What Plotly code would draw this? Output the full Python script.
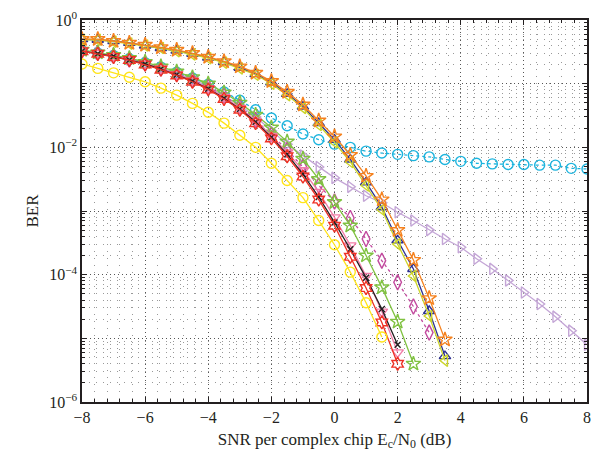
import plotly.graph_objects as go

# SNR grid (dB), 0.5 dB steps
snr_all = [-8 + 0.5 * i for i in range(33)]

# log10(BER) values
yellow_circ = [-0.69,-0.76,-0.83,-0.90,-0.97,-1.07,-1.18,-1.31,-1.45,-1.62,-1.81,-2.00,-2.25,-2.52,-2.79,-3.15,-3.53,-3.96,-4.44,-4.98]
red_hex = [-0.49,-0.53,-0.58,-0.63,-0.70,-0.78,-0.87,-0.97,-1.09,-1.24,-1.41,-1.62,-1.86,-2.14,-2.46,-2.82,-3.23,-3.72,-4.21,-4.75,-5.40]
pink_tri = [-0.48,-0.52,-0.57,-0.62,-0.69,-0.76,-0.85,-0.95,-1.07,-1.21,-1.38,-1.58,-1.82,-2.08,-2.36,-2.70,-3.10,-3.54,-4.02,-4.58,-5.22]
black_x = [-0.49,-0.53,-0.57,-0.63,-0.69,-0.77,-0.86,-0.96,-1.08,-1.23,-1.40,-1.60,-1.84,-2.11,-2.42,-2.78,-3.18,-3.60,-4.05,-4.54,-5.10]
green_star = [-0.47,-0.51,-0.55,-0.60,-0.66,-0.73,-0.81,-0.90,-1.00,-1.14,-1.30,-1.49,-1.69,-1.91,-2.18,-2.50,-2.86,-3.23,-3.70,-4.20,-4.74,-5.40]
magenta_dia = [-0.48,-0.52,-0.56,-0.62,-0.68,-0.76,-0.84,-0.94,-1.05,-1.19,-1.36,-1.57,-1.80,-2.04,-2.31,-2.60,-2.85,-3.11,-3.44,-3.78,-4.12,-4.50,-4.91]
cyan_circ = [-0.48,-0.52,-0.56,-0.61,-0.67,-0.74,-0.82,-0.91,-1.01,-1.13,-1.26,-1.41,-1.54,-1.66,-1.79,-1.88,-1.95,-2.00,-2.06,-2.09,-2.11,-2.13,-2.15,-2.19,-2.22,-2.25,-2.26,-2.27,-2.27,-2.28,-2.28,-2.33,-2.34]
lavender_tri = [-0.48,-0.52,-0.57,-0.62,-0.68,-0.75,-0.84,-0.93,-1.05,-1.19,-1.34,-1.52,-1.74,-1.95,-2.13,-2.31,-2.48,-2.62,-2.76,-2.87,-3.02,-3.15,-3.30,-3.44,-3.57,-3.75,-3.91,-4.09,-4.28,-4.46,-4.66,-4.88,-5.10]
orange_star = [-0.30,-0.30,-0.33,-0.36,-0.39,-0.43,-0.47,-0.52,-0.58,-0.65,-0.73,-0.83,-0.96,-1.13,-1.33,-1.58,-1.83,-2.12,-2.45,-2.82,-3.30,-3.77,-4.37,-5.02]
navy_tri = [-0.30,-0.31,-0.33,-0.36,-0.40,-0.44,-0.48,-0.53,-0.59,-0.66,-0.75,-0.85,-0.98,-1.16,-1.36,-1.62,-1.88,-2.19,-2.55,-2.94,-3.46,-3.91,-4.57,-5.28]
yg_tri = [-0.31,-0.31,-0.34,-0.37,-0.40,-0.44,-0.49,-0.54,-0.60,-0.67,-0.76,-0.86,-1.00,-1.18,-1.38,-1.65,-1.92,-2.23,-2.60,-2.98,-3.52,-4.02,-4.65,-5.35]

x_ticks = [-8, -6, -4, -2, 0, 2, 4, 6, 8]
y_tick_exps = [0, -1, -2, -3, -4, -5, -6]
y_tick_labels = ["10<sup>0</sup>", "", "10<sup>\u22122</sup>", "", "10<sup>\u22124</sup>", "", "10<sup>\u22126</sup>"]

series = [
    (lavender_tri, "#C4A6D6", "triangle-right-open", "solid", 10),
    (cyan_circ, "#1CB4DE", "circle-open", "dot", 10),
    (magenta_dia, "#C24A9E", "diamond-tall-open", "dot", 11),
    (green_star, "#80C241", "star-open", "solid", 11),
    (pink_tri, "#F27DA8", "triangle-down-open", "solid", 10),
    (black_x, "#231F20", "x-thin-open", "solid", 6),
    (red_hex, "#EE3124", "hexagram-open", "solid", 10),
    (yellow_circ, "#FFE41A", "circle-open", "solid", 10),
    (navy_tri, "#2E3192", "triangle-up-open", "solid", 10),
    (yg_tri, "#CCD52A", "triangle-left-open", "solid", 10),
    (orange_star, "#F5821F", "star-open", "solid", 11),
]

fig = go.Figure()
for vals, col, sym, dash, sz in series:
    xs = snr_all[:len(vals)]
    ys = [10 ** v for v in vals]
    fig.add_trace(go.Scatter(
        x=xs, y=ys, mode="lines+markers",
        line=dict(color=col, width=1.3, dash=dash),
        marker=dict(symbol=sym, size=sz, color=col, line=dict(color=col, width=1.4)),
        showlegend=False,
    ))

minor_x = [-8 + 0.4 * i for i in range(41) if abs(((-8 + 0.4 * i) / 2) - round((-8 + 0.4 * i) / 2)) > 1e-6]
minor_y = [k * 10 ** d for d in range(-6, 0) for k in range(2, 10)]

font_family = "Liberation Serif, Times New Roman, serif"
grid_major = dict(showgrid=True, gridcolor="#555555", griddash="1px,3px", gridwidth=1)
grid_minor = dict(showgrid=True, gridcolor="#999999", griddash="1px,6px", gridwidth=1)

fig.update_layout(
    width=592, height=461, autosize=False,
    margin=dict(l=82, r=5, t=20, b=59),
    paper_bgcolor="white", plot_bgcolor="white",
    font=dict(family=font_family, size=16, color="#231F20"),
    xaxis=dict(
        range=[-8, 8], tickvals=x_ticks, automargin=False,
        showline=True, linecolor="#231F20", linewidth=1.5, mirror="allticks",
        ticks="inside", ticklen=5, tickcolor="#231F20",
        zeroline=False, **grid_major,
        minor=dict(tickvals=minor_x, ticks="inside", ticklen=3, tickcolor="#231F20", **grid_minor),
        title=dict(text="SNR per complex chip E<sub>c</sub>/N<sub>0</sub> (dB)", standoff=8,
                   font=dict(size=17)),
        tickfont=dict(size=16),
    ),
    yaxis=dict(
        type="log", range=[-6, 0], automargin=False,
        tickvals=[10 ** e for e in y_tick_exps], ticktext=y_tick_labels,
        showline=True, linecolor="#231F20", linewidth=1.5, mirror="allticks",
        ticks="inside", ticklen=5, tickcolor="#231F20",
        zeroline=False, **grid_major,
        minor=dict(tickvals=minor_y, ticks="inside", ticklen=3, tickcolor="#231F20", **grid_minor),
        title=dict(text="BER", standoff=6, font=dict(size=17)),
        tickfont=dict(size=16),
    ),
)

fig.write_html(
    "out.html",
    config={"responsive": False, "displayModeBar": False},
    post_script="document.body.style.margin='0';document.body.style.overflow='hidden';",
)
